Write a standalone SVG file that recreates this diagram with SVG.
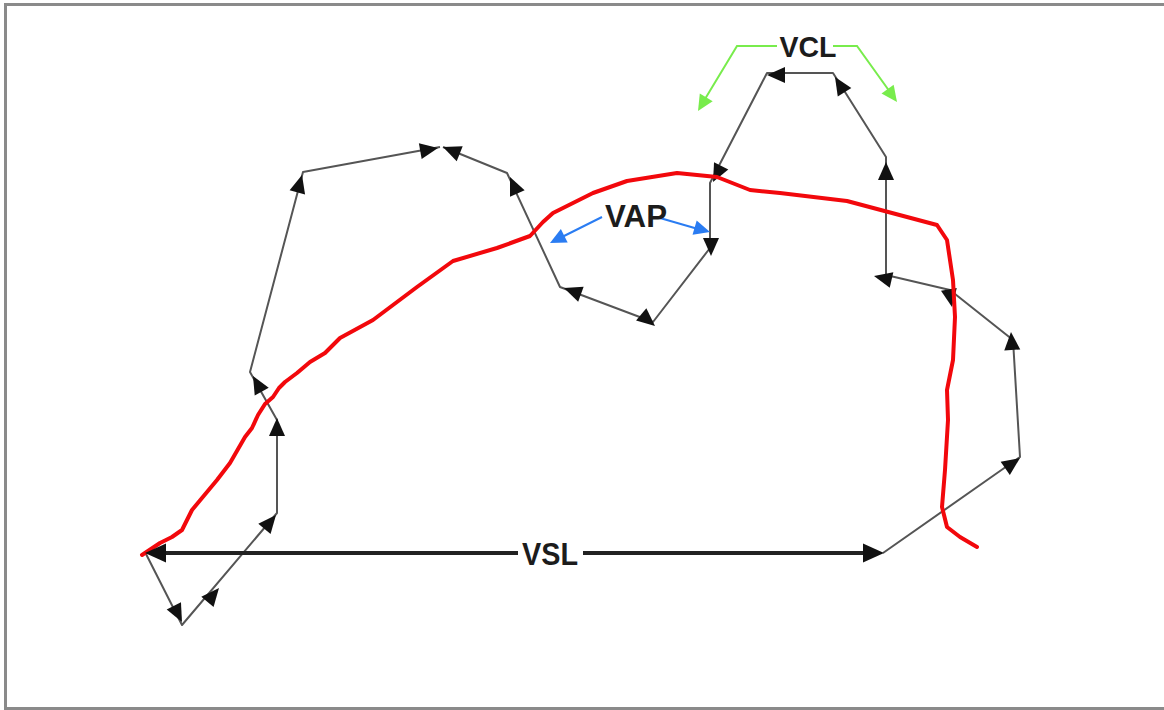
<svg xmlns="http://www.w3.org/2000/svg" xmlns:xlink="http://www.w3.org/1999/xlink" width="1164" height="710" viewBox="0 0 1164 710">
<defs>
<style>
.track{fill:none;stroke:#555;stroke-width:2;stroke-linejoin:round}
.ah{fill:#111}
.lbl{font-family:"Liberation Sans",Arial,sans-serif;font-weight:bold;fill:#1c1c1c}
.red{fill:none;stroke:#f2080c;stroke-width:4;stroke-linejoin:round;stroke-linecap:round}
.blue{fill:none;stroke:#2a7cf2;stroke-width:2}
.green{fill:none;stroke:#78ec4c;stroke-width:2}
</style>
<path id="ah" d="M0,0 L-18,-8 L-18,8 Z"/>
<path id="ahb" d="M0,0 L-21,-9.5 L-21,9.5 Z"/>
<path id="ahs" d="M0,0 L-16,-7.5 L-16,7.5 Z"/>
</defs>
<rect width="1164" height="710" fill="#fff"/>
<g id="frame">
<path d="M1164,4.5 H5.5 V708.5 H1164" fill="none" stroke="#8a8a8a" stroke-width="3"/>
</g>
<g id="connectors">
<polyline class="track" points="145,552 182,625 277,513 277,420 250,372 303,172 440,147"/>
<polyline class="track" points="443,147 507,173 560,287 653,322 710,248 710,183 767,73 833,73 886,157 886,275 950,290 1013,340 1020,457 883,553"/>
<g class="ah">
<use xlink:href="#ah" transform="translate(182,622) rotate(63)"/>
<use xlink:href="#ah" transform="translate(219,588) rotate(-50)"/>
<use xlink:href="#ah" transform="translate(276,515) rotate(-50)"/>
<use xlink:href="#ah" transform="translate(277,418) rotate(-90)"/>
<use xlink:href="#ah" transform="translate(253,376) rotate(-119)"/>
<use xlink:href="#ah" transform="translate(302,175) rotate(-75)"/>
<use xlink:href="#ah" transform="translate(438,148) rotate(-10)"/>
<use xlink:href="#ah" transform="translate(443,147) rotate(-158)"/>
<use xlink:href="#ah" transform="translate(510,177) rotate(-114)"/>
<use xlink:href="#ah" transform="translate(564,288) rotate(-160)"/>
<use xlink:href="#ah" transform="translate(655,326) rotate(40)"/>
<use xlink:href="#ah" transform="translate(711,256) rotate(90)"/>
<use xlink:href="#ah" transform="translate(713,182) rotate(117)"/>
<use xlink:href="#ah" transform="translate(767,75) rotate(180)"/>
<use xlink:href="#ah" transform="translate(835,77) rotate(-122)"/>
<use xlink:href="#ah" transform="translate(886,162) rotate(-90)"/>
<use xlink:href="#ah" transform="translate(874,276) rotate(-167)"/>
<use xlink:href="#ah" transform="translate(952,307) rotate(80)"/>
<use xlink:href="#ah" transform="translate(1011,332) rotate(-94)"/>
<use xlink:href="#ah" transform="translate(1020,458) rotate(-35)"/>
</g>
</g>
<g id="red-path">
<polyline class="red" points="142,555 160,543 172,537 182,530 192,510 202,498 217,480 230,463 245,437 252,428 258,415 265,404 273,397 279,388 285,382 297,373 310,362 325,353 340,338 373,320 417,287 453,261 497,248 530,236 543,222 553,213 593,193 627,181 677,173 717,177 750,190 780,193 847,201 937,225 947,240 953,280 955,317 953,360 947,390 948,420 945,470 942,507 947,527 960,537 977,547"/>
</g>
<g id="vsl">
<line x1="150" y1="553" x2="518" y2="553" stroke="#222" stroke-width="4"/>
<line x1="583" y1="553" x2="866" y2="553" stroke="#222" stroke-width="4"/>
<use xlink:href="#ahb" class="ah" transform="translate(145,553) rotate(180)"/>
<use xlink:href="#ahb" class="ah" transform="translate(884,553)"/>
<text class="lbl" x="550" y="565" font-size="31" text-anchor="middle" textLength="56" lengthAdjust="spacingAndGlyphs">VSL</text>
</g>
<g id="vap">
<line class="blue" x1="602" y1="217" x2="560" y2="238"/>
<use xlink:href="#ahs" fill="#2a7cf2" transform="translate(550,243) rotate(153)"/>
<line class="blue" x1="660" y1="218" x2="698" y2="229"/>
<use xlink:href="#ahs" fill="#2a7cf2" transform="translate(710,232) rotate(16)"/>
<text class="lbl" x="636" y="227" font-size="31" text-anchor="middle" textLength="62" lengthAdjust="spacingAndGlyphs">VAP</text>
</g>
<g id="vcl">
<polyline class="green" points="777,46 737,46 705,99"/>
<use xlink:href="#ahs" fill="#78ec4c" transform="translate(698,111) rotate(121)"/>
<polyline class="green" points="833,46 857,46 890,92"/>
<use xlink:href="#ahs" fill="#78ec4c" transform="translate(897,102) rotate(54)"/>
<text class="lbl" x="808" y="57" font-size="30" text-anchor="middle" textLength="57" lengthAdjust="spacingAndGlyphs">VCL</text>
</g>
</svg>
